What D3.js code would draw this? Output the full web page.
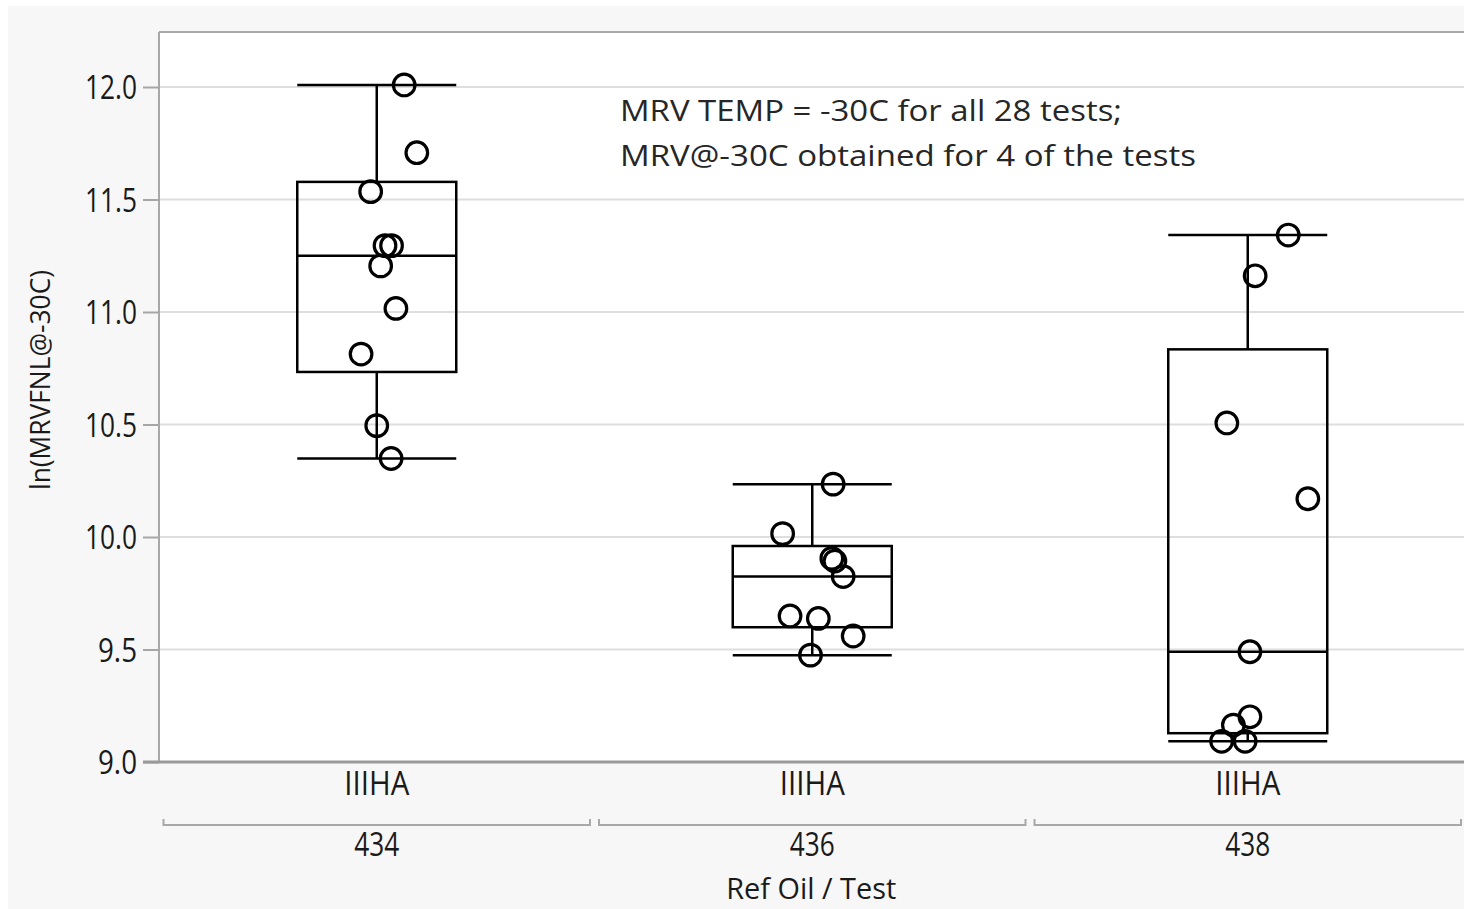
<!DOCTYPE html>
<html>
<head>
<meta charset="utf-8">
<script src="https://cdn.jsdelivr.net/npm/d3@7"></script>
<style>
  html, body { margin: 0; padding: 0; background: #ffffff; }
  svg { display: block; }
</style>
</head>
<body>
<svg id="chart" width="1464" height="909"></svg>
<script>
// Ref oil groups and the test each was run in
const refOils = ["434", "436", "438"];
const testName = "IIIHA";

// ln(MRVFNL@-30C) results per reference oil
const values434 = [12.009, 11.708, 11.535, 11.295, 11.295, 11.205, 11.016, 10.813, 10.495, 10.349];
const values436 = [10.235, 10.015, 9.905, 9.893, 9.824, 9.649, 9.638, 9.560, 9.475];
const values438 = [11.342, 11.161, 10.507, 10.170, 9.490, 9.201, 9.164, 9.092, 9.092];

// horizontal jitter of each point, as a fraction of the group width
const jitter434 = [0.063, 0.092, -0.014, 0.019, 0.034, 0.009, 0.044, -0.036, 0.000, 0.033];
const jitter436 = [0.048, -0.068, 0.045, 0.052, 0.071, -0.051, 0.014, 0.094, -0.004];
const jitter438 = [0.093, 0.017, -0.048, 0.138, 0.005, 0.005, -0.033, -0.060, -0.006];

const yTickValues = [9.0, 9.5, 10.0, 10.5, 11.0, 11.5, 12.0];
const yTitle = "ln(MRVFNL@-30C)";
const xTitle = "Ref Oil / Test";
const noteLines = [
  "MRV TEMP = -30C for all 28 tests;",
  "MRV@-30C obtained for 4 of the tests"
];

const groups = refOils.map((oil, i) => ({
  oil,
  values: [values434, values436, values438][i],
  jitter: [jitter434, jitter436, jitter438][i]
}));

// ---- layout ----
const plotLeft = 159, plotTop = 32, plotBottom = 762;
const groupStep = 435.5;
const plotRight = plotLeft + groupStep * refOils.length;

const svg = d3.select("#chart");
const axisFont = "'Open Sans', 'Noto Sans', sans-serif";
const ink = "#1a1a1a";

const x = d3.scaleBand().domain(refOils).range([plotLeft, plotRight]).padding(0);
const y = d3.scaleLinear().domain([9, 12]).range([plotBottom, 87]);

// outer panel
svg.append("rect").attr("x", 8).attr("y", 6).attr("width", 1464 - 8).attr("height", 909 - 6)
  .attr("fill", "#f7f7f7");
// plot area
svg.append("rect").attr("x", plotLeft).attr("y", plotTop)
  .attr("width", plotRight - plotLeft).attr("height", plotBottom - plotTop)
  .attr("fill", "#ffffff");

// text helper: fixed advance width so the narrow UI font is reproduced
function label(parent, str, opts) {
  const t = parent.append("text")
    .text(str)
    .attr("text-anchor", "start")
    .attr("font-family", opts.family || axisFont)
    .attr("font-size", opts.size)
    .attr("fill", opts.fill || ink)
    .attr("textLength", opts.width)
    .attr("lengthAdjust", "spacingAndGlyphs");
  let x0 = opts.x;
  if (opts.anchor === "end") x0 = opts.x - opts.width;
  else if (opts.anchor === "middle") x0 = opts.x - opts.width / 2;
  t.attr("x", x0).attr("y", opts.y);
  if (opts.transform) t.attr("transform", opts.transform);
  return t;
}

// gridlines
svg.append("g").selectAll("line").data(yTickValues).join("line")
  .attr("x1", plotLeft).attr("x2", plotRight)
  .attr("y1", d => y(d)).attr("y2", d => y(d))
  .attr("stroke", "#dedede").attr("stroke-width", 2);

// y axis (ticks + labels)
const yAxis = d3.axisLeft(y).tickValues(yTickValues).tickFormat(d3.format(".1f")).tickSize(16).tickPadding(6);
const yAxisG = svg.append("g").attr("transform", `translate(${plotLeft},0)`).call(yAxis);
yAxisG.select(".domain").remove();
yAxisG.selectAll(".tick line").attr("stroke", "#a6a6a6").attr("stroke-width", 2);
yAxisG.selectAll(".tick text").remove();
yAxisG.selectAll(".tick").each(function (d) {
  const s = d3.format(".1f")(d);
  label(d3.select(this), s, {
    x: -22, y: 11.5, size: 32, anchor: "end", width: s.length === 4 ? 52 : 39
  });
});

// frame: top and left borders, bottom axis line
svg.append("line").attr("x1", plotLeft).attr("x2", plotRight).attr("y1", plotTop).attr("y2", plotTop)
  .attr("stroke", "#a8a8a8").attr("stroke-width", 2);
svg.append("line").attr("x1", plotLeft).attr("x2", plotLeft).attr("y1", plotTop).attr("y2", plotBottom)
  .attr("stroke", "#a8a8a8").attr("stroke-width", 2);
svg.append("line").attr("x1", plotLeft - 16).attr("x2", plotRight).attr("y1", plotBottom).attr("y2", plotBottom)
  .attr("stroke", "#9a9a9a").attr("stroke-width", 3);

// box statistics (quantiles on the (n+1)p rule, 1.5 IQR whiskers)
function quantile(sorted, p) {
  const n = sorted.length;
  const h = (n + 1) * p;
  const lo = Math.floor(h);
  if (lo < 1) return sorted[0];
  if (lo >= n) return sorted[n - 1];
  return sorted[lo - 1] + (h - lo) * (sorted[lo] - sorted[lo - 1]);
}
function boxStats(vals) {
  const s = vals.slice().sort(d3.ascending);
  const q1 = quantile(s, 0.25), med = quantile(s, 0.5), q3 = quantile(s, 0.75);
  const iqr = q3 - q1;
  const lo = d3.min(s.filter(v => v >= q1 - 1.5 * iqr));
  const hi = d3.max(s.filter(v => v <= q3 + 1.5 * iqr));
  return { q1, med, q3, lo, hi };
}

const boxFrac = 159 / 435.5;
const boxW = x.bandwidth() * boxFrac;

const gBoxes = svg.append("g");
groups.forEach(g => {
  const st = boxStats(g.values);
  const cx = x(g.oil) + x.bandwidth() / 2;
  const bg = gBoxes.append("g").attr("stroke", "#000").attr("stroke-width", 2.5).attr("fill", "none");
  // whisker stems
  bg.append("line").attr("x1", cx).attr("x2", cx).attr("y1", y(st.hi)).attr("y2", y(st.q3));
  bg.append("line").attr("x1", cx).attr("x2", cx).attr("y1", y(st.q1)).attr("y2", y(st.lo));
  // whisker caps
  bg.append("line").attr("x1", cx - boxW / 2).attr("x2", cx + boxW / 2).attr("y1", y(st.hi)).attr("y2", y(st.hi));
  bg.append("line").attr("x1", cx - boxW / 2).attr("x2", cx + boxW / 2).attr("y1", y(st.lo)).attr("y2", y(st.lo));
  // box and median
  bg.append("rect").attr("x", cx - boxW / 2).attr("width", boxW)
    .attr("y", y(st.q3)).attr("height", y(st.q1) - y(st.q3));
  bg.append("line").attr("x1", cx - boxW / 2).attr("x2", cx + boxW / 2).attr("y1", y(st.med)).attr("y2", y(st.med));

  // data points
  gBoxes.append("g").selectAll("circle").data(g.values).join("circle")
    .attr("cx", (d, i) => cx + g.jitter[i] * x.bandwidth())
    .attr("cy", d => y(d))
    .attr("r", 10.8)
    .attr("fill", "none")
    .attr("stroke", "#000")
    .attr("stroke-width", 3.2);
});

// x axis: test row, group brackets, ref oil row
const xg = svg.append("g");
refOils.forEach(oil => {
  const cx = x(oil) + x.bandwidth() / 2;
  label(xg, testName, { x: cx, y: 795, size: 32, anchor: "middle", width: 65 });
  const b0 = x(oil) + 4.5, b1 = x(oil) + x.bandwidth() - 4.5;
  xg.append("path")
    .attr("d", `M${b0},819 V825 H${b1} V819`)
    .attr("fill", "none").attr("stroke", "#a8a8a8").attr("stroke-width", 2);
  label(xg, oil, { x: cx, y: 856, size: 32, anchor: "middle", width: 45 });
});

// axis titles
label(svg, xTitle, { x: (plotLeft + plotRight) / 2 - 1, y: 899, size: 30, anchor: "middle", width: 170 });
label(svg, yTitle, {
  x: -490, y: 50, size: 27, anchor: "start", width: 220,
  transform: "rotate(-90)"
});

// note in the plot
const noteFont = "'Open Sans', 'Noto Sans', sans-serif";
label(svg, noteLines[0], { x: 620, y: 121, size: 30, family: noteFont, width: 502, fill: "#262626" });
label(svg, noteLines[1], { x: 620, y: 166, size: 30, family: noteFont, width: 576, fill: "#262626" });
</script>
</body>
</html>
